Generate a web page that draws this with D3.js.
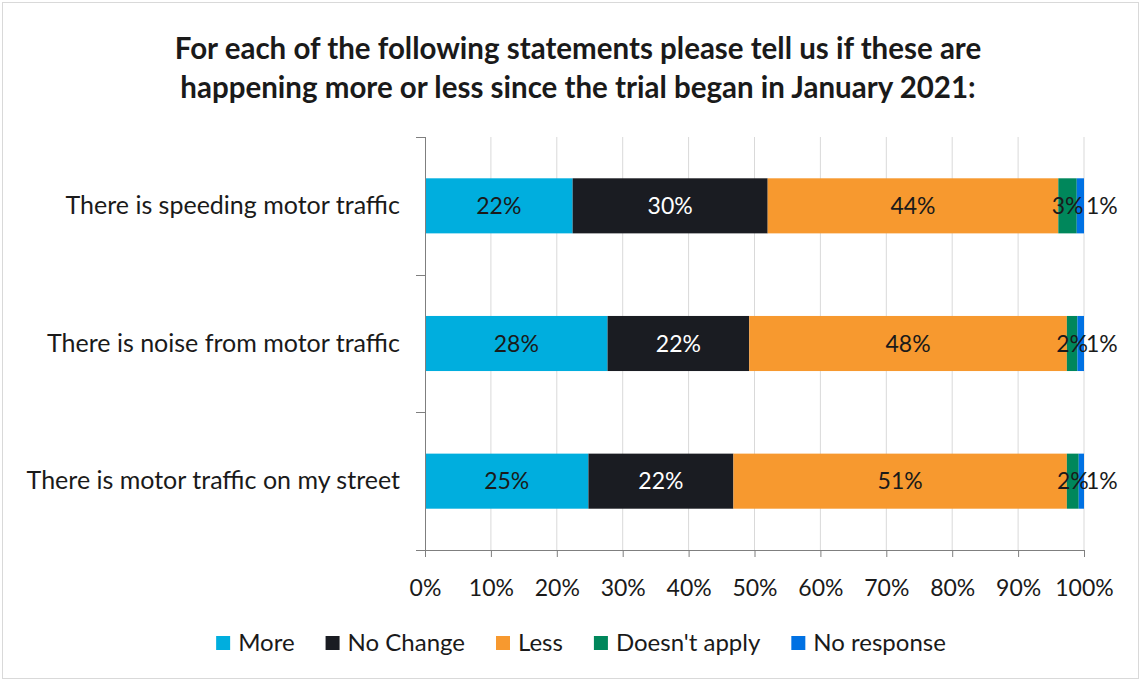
<!DOCTYPE html>
<html><head><meta charset="utf-8">
<script src="https://cdn.jsdelivr.net/npm/d3@7"></script>
<style>body{margin:0;background:#fff}svg{display:block}text{font-family:Lato,"Liberation Sans",Arial,sans-serif}</style>
</head><body><svg id="c" width="1141" height="681"></svg>
<script>
const titleLines = ["For each of the following statements please tell us if these are","happening more or less since the trial began in January 2021:"];
const categories = ["There is speeding motor traffic","There is noise from motor traffic","There is motor traffic on my street"];
const seriesNames = ["More","No Change","Less","Doesn't apply","No response"];
const seriesColors = ["#00AEDE","#1A1C22","#F7992F","#00875B","#0071E3"];
const labelColors = ["#1a1a1a","#ffffff","#1a1a1a","#1a1a1a","#1a1a1a"];
const more      = [22.4, 27.7, 24.8];
const noChange  = [29.6, 21.5, 22.0];
const less      = [44.1, 48.2, 50.6];
const doesntApply = [2.8, 1.6, 1.8];
const noResponse  = [1.1, 1.0, 0.8];
const xTicks = [0,10,20,30,40,50,60,70,80,90,100];

const seriesValues = [more, noChange, less, doesntApply, noResponse];
const rows = categories.map((c,i)=>{const r={cat:c}; seriesNames.forEach((s,j)=>r[s]=seriesValues[j][i]); return r;});
const stack = d3.stack().keys(seriesNames)(rows);

const svg = d3.select("#c");
svg.append("rect").attr("x",2.5).attr("y",2.5).attr("width",1136).attr("height",676).attr("fill","#fff").attr("stroke","#d9d9d9");

const x = d3.scaleLinear().domain([0,100]).range([425,1084]);
const y = d3.scaleBand().domain(categories).range([137,550]).paddingInner(0.6).paddingOuter(0.3);

// title
svg.append("g").selectAll("text").data(titleLines).join("text")
  .attr("x",578).attr("y",(d,i)=>59+i*39).attr("text-anchor","middle")
  .attr("font-size",29.5).attr("font-weight","bold").attr("fill","#1a1a1a").text(d=>d);

// gridlines
svg.append("g").selectAll("line").data(xTicks.slice(1)).join("line")
  .attr("x1",d=>x(d)).attr("x2",d=>x(d)).attr("y1",137).attr("y2",550)
  .attr("stroke","#d9d9d9").attr("stroke-width",1);

// bars
const g = svg.append("g");
stack.forEach((s,j)=>{
  g.append("g").selectAll("rect").data(s).join("rect")
    .attr("x",d=>x(d[0])).attr("width",d=>x(d[1])-x(d[0]))
    .attr("y",d=>y(d.data.cat)).attr("height",y.bandwidth())
    .attr("fill",seriesColors[j]);
});

// labels
stack.forEach((s,j)=>{
  const last = j===seriesNames.length-1;
  g.append("g").selectAll("text").data(s).join("text")
    .attr("x",d=> last ? x(100)+2 : (x(d[0])+x(d[1]))/2)
    .attr("y",d=>y(d.data.cat)+y.bandwidth()/2+8)
    .attr("text-anchor", last ? "start" : "middle")
    .attr("font-size",23).attr("fill",labelColors[j])
    .text(d=>Math.round(d[1]-d[0])+"%");
});

// y axis
const yAxis = svg.append("g").attr("stroke","#7f7f7f");
yAxis.append("line").attr("x1",425.5).attr("x2",425.5).attr("y1",137).attr("y2",550);
[137, 137+413/3, 137+2*413/3, 550].forEach(v=>{
  yAxis.append("line").attr("x1",416).attr("x2",425).attr("y1",Math.round(v)+0.5).attr("y2",Math.round(v)+0.5);
});
svg.append("g").selectAll("text").data(categories).join("text")
  .attr("x",400).attr("y",d=>y(d)+y.bandwidth()/2+8).attr("text-anchor","end")
  .attr("font-size",25).attr("fill","#1a1a1a").text(d=>d);

// x axis
const xAxis = svg.append("g").attr("transform","translate(0,550)")
  .call(d3.axisBottom(x).tickValues(xTicks).tickFormat(d=>d+"%").tickSize(7).tickSizeOuter(0));
xAxis.select(".domain").attr("stroke","#7f7f7f").attr("d","M416,0.5H1084.5");
xAxis.selectAll(".tick line").attr("stroke","#7f7f7f");
xAxis.selectAll(".tick text").attr("font-size",23).attr("fill","#1a1a1a").attr("dy",0).attr("y",46)
  .attr("font-family","Lato,'Liberation Sans',Arial,sans-serif");

// legend
const leg = svg.append("g");
let cx = 0;
const items = seriesNames.map((n,i)=>{
  const t = leg.append("text").attr("font-size",24).attr("fill","#1a1a1a").text(n);
  const w = t.node().getComputedTextLength();
  const it = {t, i, x:cx, w};
  cx += 14 + 8 + w + 31;
  return it;
});
const total = cx - 31;
const startX = 581 - total/2;
items.forEach(it=>{
  leg.append("rect").attr("x",startX+it.x).attr("y",636).attr("width",14).attr("height",14).attr("fill",seriesColors[it.i]);
  it.t.attr("x",startX+it.x+22).attr("y",651);
});
</script></body></html>
